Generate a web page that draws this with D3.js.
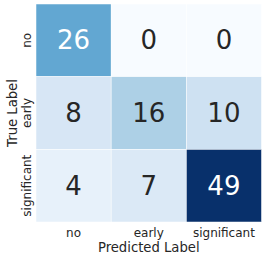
<!DOCTYPE html>
<html>
<head>
<meta charset="utf-8">
<script src="https://cdn.jsdelivr.net/npm/d3@7"></script>
<style>
  body { margin: 0; background: #fff; }
  svg { display: block; font-family: "DejaVu Sans", sans-serif; }
</style>
</head>
<body>
<svg id="chart" width="266" height="260"></svg>
<script>
// confusion matrix values
var classes = ['no', 'early', 'significant'];
var counts = [
  [26, 0, 0],
  [8, 16, 10],
  [4, 7, 49]
];

var margin = { left: 36, top: 4, right: 4.5, bottom: 38 };
var width = 266, height = 260;

var svg = d3.select('#chart');

var x = d3.scaleBand().domain(classes).range([margin.left, width - margin.right]);
var y = d3.scaleBand().domain(classes).range([margin.top, height - margin.bottom]);

var color = d3.scaleSequential(d3.interpolateBlues).domain([0, 49]);

var cells = [];
counts.forEach(function(row, i) {
  row.forEach(function(v, j) {
    cells.push({ t: classes[i], p: classes[j], v: v });
  });
});

svg.selectAll('rect.cell')
   .data(cells)
   .enter()
   .append('rect')
   .attr('class', 'cell')
   .attr('x', function(d) { return x(d.p); })
   .attr('y', function(d) { return y(d.t); })
   .attr('width', x.bandwidth())
   .attr('height', y.bandwidth())
   .attr('fill', function(d) { return color(d.v); })
   .attr('stroke', '#fff')
   .attr('stroke-width', 0.5);

svg.selectAll('text.val')
   .data(cells)
   .enter()
   .append('text')
   .attr('class', 'val')
   .attr('x', function(d) { return x(d.p) + x.bandwidth() / 2; })
   .attr('y', function(d) { return y(d.t) + y.bandwidth() / 2; })
   .attr('text-anchor', 'middle')
   .attr('dominant-baseline', 'central')
   .attr('font-size', 26)
   .attr('fill', function(d) { return d.v > 20 ? '#ffffff' : '#262626'; })
   .text(function(d) { return d.v; });

// x axis ticks
svg.selectAll('text.xt')
   .data(classes)
   .enter()
   .append('text')
   .attr('class', 'xt')
   .attr('x', function(d) { return x(d) + x.bandwidth() / 2; })
   .attr('y', 232.5)
   .attr('text-anchor', 'middle')
   .attr('dominant-baseline', 'central')
   .attr('font-size', 12)
   .attr('fill', '#262626')
   .text(function(d) { return d; });

// y axis ticks, rotated
svg.selectAll('text.yt')
   .data(classes)
   .enter()
   .append('text')
   .attr('class', 'yt')
   .attr('transform', function(d) {
     return 'translate(27,' + (y(d) + y.bandwidth() / 2) + ') rotate(-90)';
   })
   .attr('text-anchor', 'middle')
   .attr('dominant-baseline', 'central')
   .attr('font-size', 12)
   .attr('fill', '#262626')
   .text(function(d) { return d; });

svg.append('text')
   .attr('x', (margin.left + width - margin.right) / 2)
   .attr('y', 247)
   .attr('text-anchor', 'middle')
   .attr('dominant-baseline', 'central')
   .attr('font-size', 13.2)
   .attr('fill', '#262626')
   .text('Predicted Label');

svg.append('text')
   .attr('transform', 'translate(12,' + (margin.top + height - margin.bottom) / 2 + ') rotate(-90)')
   .attr('text-anchor', 'middle')
   .attr('dominant-baseline', 'central')
   .attr('font-size', 13.2)
   .attr('fill', '#262626')
   .text('True Label');
</script>
</body>
</html>
